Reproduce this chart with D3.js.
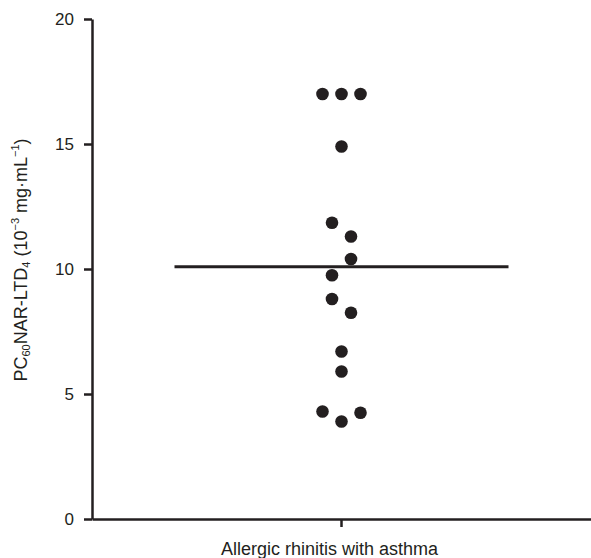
<!DOCTYPE html>
<head>
    <meta charset="utf-8">
    <title>PC60 NAR-LTD4</title>
    <script type="text/javascript" src="https://d3js.org/d3.v7.min.js"></script>
    <style>
        body { margin: 0; background: #fff; }
        text { font-family: "Liberation Sans", Arial, Helvetica, sans-serif; fill: #231f20; }
    </style>
</head>
<body>
<div id="container"></div>
<script>
    //----------------------------DATA-------------------------------//
    const groups = ["Allergic rhinitis with asthma"];
    // PC60 values (10^-3 mg/mL)
    const values = [17, 17, 17, 14.9, 11.85, 11.3, 10.4, 9.75, 8.8, 8.25, 6.7, 5.9, 4.3, 4.25, 3.9];
    // side-by-side slot of each dot (scatter column position)
    const slots = [-2, 0, 2, 0, -1, 1, 1, -1, -1, 1, 0, 0, -2, 2, 0];
    const yTicks = [0, 5, 10, 15, 20];

    //----------------------------SVG--------------------------------//
    const width = 591;
    const height = 558;
    const ink = "#231f20";
    const svg = d3.select("div#container").append("svg")
        .attr("width", width)
        .attr("height", height);

    //---------------------------SCALES------------------------------//
    const xScale = d3.scaleBand().domain(groups).range([92, 591]);
    const yScale = d3.scaleLinear().domain([0, 20]).range([519, 19]);
    const slotWidth = 9.5;
    const meanHalf = 167;

    //----------------------------AXES-------------------------------//
    const yaxis = d3.axisLeft(yScale).tickValues(yTicks)
        .tickSize(8).tickSizeOuter(0).tickPadding(10);
    const xaxis = d3.axisBottom(xScale)
        .tickSize(8).tickSizeOuter(0).tickPadding(15);

    const gy = svg.append("g")
        .attr("transform", "translate(92,0)")
        .call(yaxis);
    const gx = svg.append("g")
        .attr("transform", "translate(0,519)")
        .call(xaxis);

    [gx, gy].forEach(function(g) {
        g.selectAll("path, line").attr("stroke", ink).attr("stroke-width", 2.5);
        g.selectAll("text").attr("fill", ink)
            .style("font-family", "'Liberation Sans', Arial, sans-serif");
    });
    gy.selectAll("text").attr("font-size", 17);
    gx.selectAll("text").attr("font-size", 18).attr("dx", -12);

    // y label with sub/superscripts
    const ylab = svg.append("text")
        .attr("transform", "translate(27,260) rotate(-90)")
        .attr("text-anchor", "middle")
        .attr("font-size", 18);
    ylab.append("tspan").text("PC");
    ylab.append("tspan").text("60").attr("font-size", 11).attr("baseline-shift", "-3");
    ylab.append("tspan").text("NAR-LTD");
    ylab.append("tspan").text("4").attr("font-size", 11).attr("baseline-shift", "-3");
    ylab.append("tspan").text(" (10");
    ylab.append("tspan").text("−3").attr("font-size", 11).attr("baseline-shift", "8");
    ylab.append("tspan").text(" mg·mL");
    ylab.append("tspan").text("−1").attr("font-size", 11).attr("baseline-shift", "8");
    ylab.append("tspan").text(")");

    //----------------------------MARKS------------------------------//
    const cx = xScale(groups[0]) + xScale.bandwidth() / 2;

    svg.append("line")
        .attr("x1", cx - meanHalf)
        .attr("x2", cx + meanHalf)
        .attr("y1", yScale(d3.mean(values)))
        .attr("y2", yScale(d3.mean(values)))
        .attr("stroke", ink)
        .attr("stroke-width", 3);

    svg.selectAll("circle")
        .data(values)
        .enter()
        .append("circle")
        .attr("cx", function(d, i) { return cx + slots[i] * slotWidth; })
        .attr("cy", function(d) { return yScale(d); })
        .attr("r", 6.3)
        .attr("fill", ink);
</script>
</body>
